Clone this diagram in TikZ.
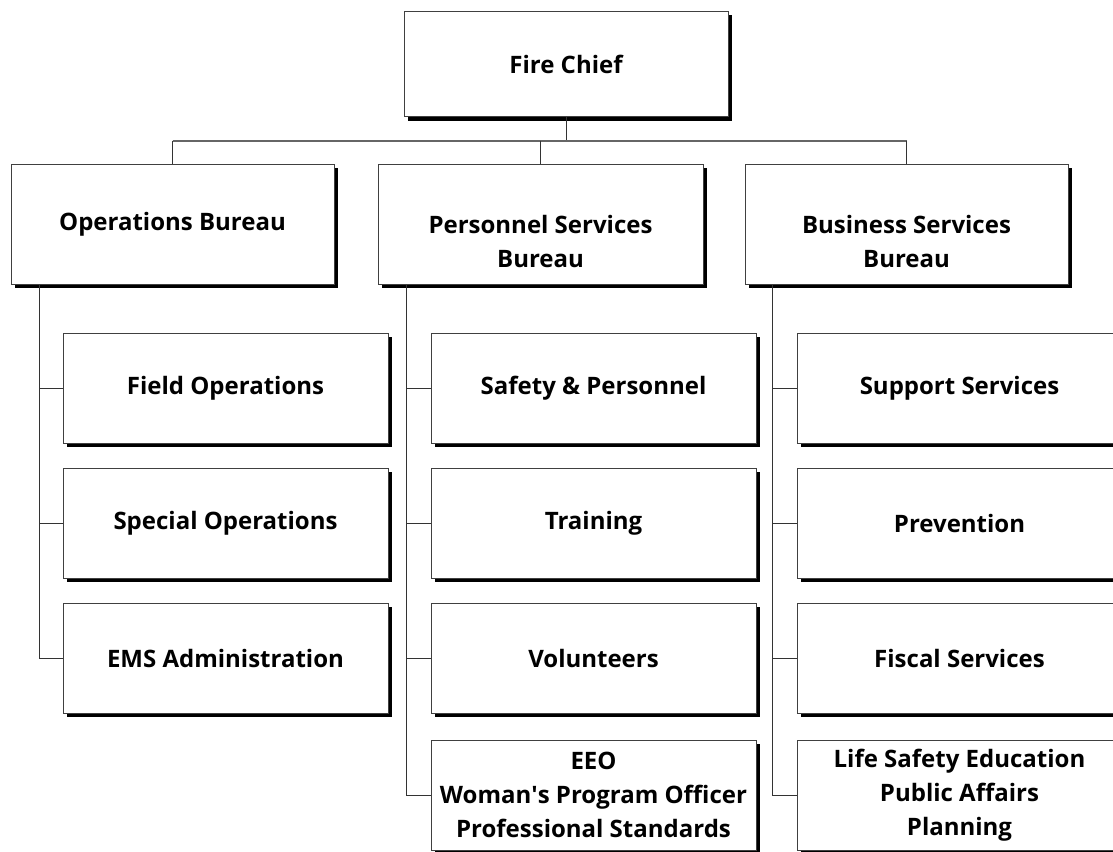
\documentclass[tikz,border=0pt]{standalone}
\usepackage{fontspec}
\setmainfont{Open Sans}[UprightFont=* Bold, Ligatures=NoCommon]
\usetikzlibrary{shadows}
\tikzset{
  boxfont/.style={font=\fontsize{24}{34}\selectfont},
  orgbox/.style={draw=black!75, line width=1pt, fill=white, rectangle,
    minimum width=325pt, minimum height=110pt, inner sep=0pt, align=center,
    boxfont,
    general shadow={fill=black, shadow xshift=4pt, shadow yshift=-4pt}},
  twoline/.style={label={[boxfont, align=center, yshift=-17pt]center:#1}},
  conn/.style={draw=black!80, line width=1pt},
  bar/.style={draw=black!60, line width=2pt}
}
\begin{document}
\begin{tikzpicture}[x=1pt,y=-1pt]
\useasboundingbox (0,0) rectangle (1113,851);
\clip (0,0) rectangle (1113,851);
% top
\node[orgbox, minimum width=324pt, minimum height=105pt] (chief) at (566,64) {Fire Chief};
% bureaus
\node[orgbox, minimum width=323pt, minimum height=120pt] (ops) at (172.5,224) {Operations Bureau};
\node[orgbox, minimum width=325pt, minimum height=120pt, twoline={Personnel Services\\Bureau}] (pers) at (540.5,224) {};
\node[orgbox, minimum width=323pt, minimum height=120pt, twoline={Business Services\\Bureau}] (bus) at (906.5,224) {};
% operations column
\node[orgbox] (field) at (225.5,388) {Field Operations};
\node[orgbox] (spec) at (225.5,523) {Special Operations};
\node[orgbox] (ems) at (225.5,658) {EMS Administration};
% personnel column
\node[orgbox] (safety) at (593.5,388) {Safety \& Personnel};
\node[orgbox] (train) at (593.5,523) {Training};
\node[orgbox] (vol) at (593.5,658) {Volunteers};
\node[orgbox] (eeo) at (593.5,795) {EEO\\Woman\textquotesingle s Program Officer\\Professional Standards};
% business column
\node[orgbox] (supp) at (959.5,388) {Support Services};
\node[orgbox] (prev) at (959.5,523) {Prevention};
\node[orgbox] (fisc) at (959.5,658) {Fiscal Services};
\node[orgbox] (life) at (959.5,795) {Life Safety Education\\Public Affairs\\Planning};
% chief to bureaus
\draw[conn] (chief.south) -- ++(0,23.5) coordinate (j);
\draw[bar] (ops.north |- j) -- (bus.north |- j);
\draw[conn] (ops.north |- j) -- (ops.north);
\draw[conn] (pers.north |- j) -- (pers.north);
\draw[conn] (bus.north |- j) -- (bus.north);
% bureau spines
\coordinate (ov) at ([xshift=29pt]ops.south west);
\coordinate (pv) at ([xshift=29pt]pers.south west);
\coordinate (bv) at ([xshift=28pt]bus.south west);
\draw[conn] (ov) |- (ems.west);
\draw[conn] (ov |- field.west) -- (field.west);
\draw[conn] (ov |- spec.west) -- (spec.west);
\draw[conn] (pv) |- (eeo.west);
\draw[conn] (pv |- safety.west) -- (safety.west);
\draw[conn] (pv |- train.west) -- (train.west);
\draw[conn] (pv |- vol.west) -- (vol.west);
\draw[conn] (bv) |- (life.west);
\draw[conn] (bv |- supp.west) -- (supp.west);
\draw[conn] (bv |- prev.west) -- (prev.west);
\draw[conn] (bv |- fisc.west) -- (fisc.west);
\end{tikzpicture}
\end{document}
